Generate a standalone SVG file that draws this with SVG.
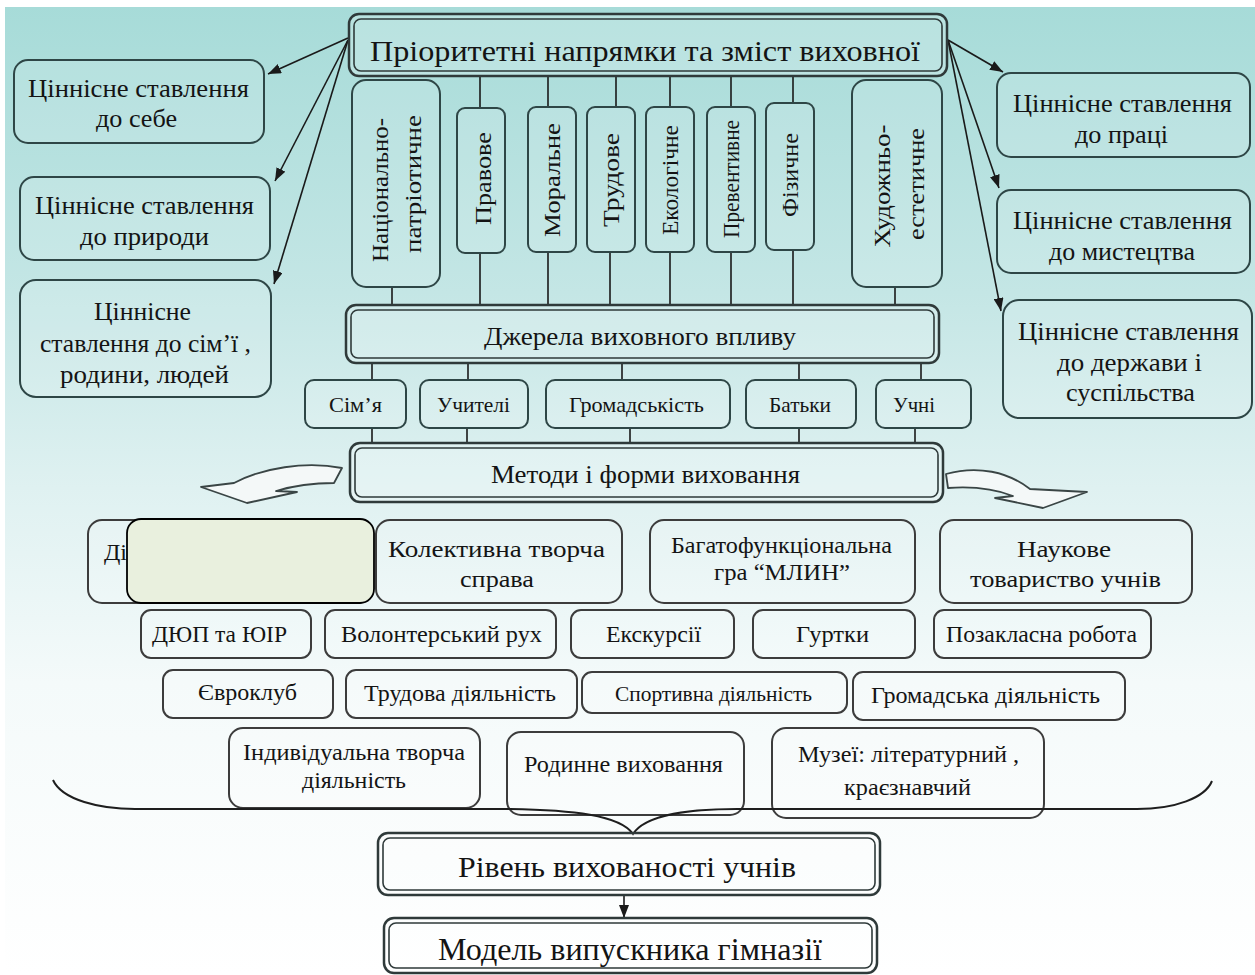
<svg xmlns="http://www.w3.org/2000/svg" width="1255" height="975" viewBox="0 0 1255 975">
<defs>
<linearGradient id="bg" x1="0" y1="0" x2="0" y2="1">
<stop offset="0" stop-color="#a6dbd8"/>
<stop offset="0.3" stop-color="#c4e6e5"/>
<stop offset="0.5" stop-color="#dff1f1"/>
<stop offset="0.7" stop-color="#f4fafa"/>
<stop offset="1" stop-color="#ffffff"/>
</linearGradient>
<marker id="ah" markerUnits="userSpaceOnUse" markerWidth="14" markerHeight="10" refX="13" refY="5" orient="auto">
<path d="M0,0 L13,5 L0,10 z" fill="#1a1a1a"/>
</marker>
<style>
.t{font-family:"Liberation Serif","Times New Roman",serif;fill:#141414}
.s26{font-size:26px}.s24{font-size:24px}.s21{font-size:21px}.s29{font-size:29px}.s31{font-size:31px}
.bx{fill:#ffffff;fill-opacity:0.12;stroke:#2e4646;stroke-width:2}
.lb{fill:#ffffff;fill-opacity:0.15;stroke:#3c3c3c;stroke-width:2}
.do{fill:#ffffff;fill-opacity:0.2;stroke:#2f3a3a;stroke-width:2.5}
.di{fill:none;stroke:#2f3a3a;stroke-width:1.6}
.cn{stroke:#1a1a1a;stroke-width:1.6;fill:none}
.ar{stroke:#1a1a1a;stroke-width:1.6;fill:none;marker-end:url(#ah)}
.ca{fill:#f4f8f8;stroke:#3a4545;stroke-width:1.8;stroke-linejoin:round}
</style>
</defs>
<rect x="0" y="0" width="1255" height="975" fill="url(#bg)"/>
<rect x="0" y="0" width="1255" height="7" fill="#ffffff"/>
<rect x="0" y="0" width="5" height="975" fill="#ffffff"/>

<g id="connectors">
<path class="cn" d="M480,76 V108 M548,76 V107 M616,76 V107 M670,76 V107 M731,76 V107 M793,76 V103"/>
<path class="cn" d="M392,287 V305 M480,253 V305 M548,252 V305 M610,252 V305 M670,252 V305 M731,252 V305 M793,250 V305 M895,287 V305"/>
<path class="cn" d="M372,363 V380 M468,363 V380 M622,363 V380 M799,363 V380 M921,363 V380"/>
<path class="cn" d="M372,428 V443 M467,428 V443 M630,428 V443 M799,428 V443 M915,428 V443"/>
<path class="ar" d="M348,38 L268,74"/>
<path class="ar" d="M348,40 L275,181"/>
<path class="ar" d="M348,40 L274,284"/>
<path class="ar" d="M948,40 L1003,72"/>
<path class="ar" d="M948,40 L999,188"/>
<path class="ar" d="M948,40 L1001,311"/>
<path class="ar" d="M624,895 V918"/>
<path class="ca" d="M342,468 C305,461 262,468 234,483 L201,487 L247,503 L297,492 L276,491 C296,485 314,483 334,483 Z"/>
<path class="ca" d="M946,474 C978,465 1008,472 1030,489 L1087,492 L1043,508 L995,498 L1013,496 C995,489 975,486 948,488 Z"/>
</g>

<g id="title">
<rect class="do" x="349" y="14" width="598" height="62" rx="10"/>
<rect class="di" x="354" y="19" width="588" height="52" rx="7"/>
<text class="t s29" x="645" y="61" text-anchor="middle" textLength="550" lengthAdjust="spacingAndGlyphs">Пріоритетні напрямки та зміст виховної</text>
</g>

<g id="left-1">
<rect class="bx" x="14" y="60" width="250" height="83" rx="14"/>
<text class="t s26" x="138.5" y="97" text-anchor="middle" textLength="221" lengthAdjust="spacingAndGlyphs">Ціннісне ставлення</text>
<text class="t s26" x="136.5" y="127" text-anchor="middle" textLength="81" lengthAdjust="spacingAndGlyphs">до себе</text>
</g>
<g id="left-2">
<rect class="bx" x="20" y="177" width="250" height="83" rx="14"/>
<text class="t s26" x="144.5" y="214" text-anchor="middle" textLength="219" lengthAdjust="spacingAndGlyphs">Ціннісне ставлення</text>
<text class="t s26" x="144.5" y="245" text-anchor="middle" textLength="129" lengthAdjust="spacingAndGlyphs">до природи</text>
</g>
<g id="left-3">
<rect class="bx" x="20" y="280" width="251" height="117" rx="16"/>
<text class="t s26" x="142.5" y="320" text-anchor="middle" textLength="97" lengthAdjust="spacingAndGlyphs">Ціннісне</text>
<text class="t s26" x="145.5" y="352" text-anchor="middle" textLength="211" lengthAdjust="spacingAndGlyphs">ставлення до сім’ї ,</text>
<text class="t s26" x="144.5" y="383" text-anchor="middle" textLength="169" lengthAdjust="spacingAndGlyphs">родини, людей</text>
</g>
<g id="right-1">
<rect class="bx" x="997" y="73" width="253" height="84" rx="14"/>
<text class="t s26" x="1122.5" y="112" text-anchor="middle" textLength="219" lengthAdjust="spacingAndGlyphs">Ціннісне ставлення</text>
<text class="t s26" x="1121.5" y="143" text-anchor="middle" textLength="93" lengthAdjust="spacingAndGlyphs">до праці</text>
</g>
<g id="right-2">
<rect class="bx" x="997" y="190" width="253" height="83" rx="14"/>
<text class="t s26" x="1122.5" y="229" text-anchor="middle" textLength="219" lengthAdjust="spacingAndGlyphs">Ціннісне ставлення</text>
<text class="t s26" x="1122" y="260" text-anchor="middle" textLength="146" lengthAdjust="spacingAndGlyphs">до мистецтва</text>
</g>
<g id="right-3">
<rect class="bx" x="1003" y="300" width="249" height="118" rx="16"/>
<text class="t s26" x="1128.5" y="340" text-anchor="middle" textLength="221" lengthAdjust="spacingAndGlyphs">Ціннісне ставлення</text>
<text class="t s26" x="1129.5" y="371" text-anchor="middle" textLength="145" lengthAdjust="spacingAndGlyphs">до держави і</text>
<text class="t s26" x="1130.5" y="401" text-anchor="middle" textLength="129" lengthAdjust="spacingAndGlyphs">суспільства</text>
</g>

<g id="v-nat">
<rect class="bx" x="352" y="80" width="88" height="207" rx="14"/>
<text class="t s24" transform="translate(380,190) rotate(-90)" x="0" y="8" text-anchor="middle" textLength="144" lengthAdjust="spacingAndGlyphs">Національно-</text>
<text class="t s24" transform="translate(413,184) rotate(-90)" x="0" y="8" text-anchor="middle" textLength="138" lengthAdjust="spacingAndGlyphs">патріотичне</text>
</g>
<g id="v-prav">
<rect class="bx" x="457" y="108" width="48" height="145" rx="8"/>
<text class="t s24" transform="translate(483,178.5) rotate(-90)" x="0" y="8" text-anchor="middle" textLength="93" lengthAdjust="spacingAndGlyphs">Правове</text>
</g>
<g id="v-mor">
<rect class="bx" x="528" y="107" width="48" height="145" rx="8"/>
<text class="t s24" transform="translate(552,180) rotate(-90)" x="0" y="8" text-anchor="middle" textLength="114" lengthAdjust="spacingAndGlyphs">Моральне</text>
</g>
<g id="v-trud">
<rect class="bx" x="587" y="107" width="48" height="145" rx="8"/>
<text class="t s24" transform="translate(611,180) rotate(-90)" x="0" y="8" text-anchor="middle" textLength="94" lengthAdjust="spacingAndGlyphs">Трудове</text>
</g>
<g id="v-eko">
<rect class="bx" x="646" y="107" width="48" height="145" rx="8"/>
<text class="t s24" transform="translate(670,180) rotate(-90)" x="0" y="8" text-anchor="middle" textLength="110" lengthAdjust="spacingAndGlyphs">Екологічне</text>
</g>
<g id="v-prev">
<rect class="bx" x="707" y="107" width="48" height="145" rx="8"/>
<text class="t s24" transform="translate(731,179) rotate(-90)" x="0" y="8" text-anchor="middle" textLength="118" lengthAdjust="spacingAndGlyphs">Превентивне</text>
</g>
<g id="v-fiz">
<rect class="bx" x="766" y="103" width="48" height="147" rx="8"/>
<text class="t s24" transform="translate(790,175) rotate(-90)" x="0" y="8" text-anchor="middle" textLength="84" lengthAdjust="spacingAndGlyphs">Фізичне</text>
</g>
<g id="v-hud">
<rect class="bx" x="852" y="80" width="90" height="207" rx="14"/>
<text class="t s24" transform="translate(882,186) rotate(-90)" x="0" y="8" text-anchor="middle" textLength="123" lengthAdjust="spacingAndGlyphs">Художньо-</text>
<text class="t s24" transform="translate(916,184) rotate(-90)" x="0" y="8" text-anchor="middle" textLength="112" lengthAdjust="spacingAndGlyphs">естетичне</text>
</g>

<g id="sources">
<rect class="do" x="346" y="305" width="593" height="58" rx="10"/>
<rect class="di" x="351" y="310" width="583" height="48" rx="7"/>
<text class="t s26" x="640" y="345" text-anchor="middle" textLength="312" lengthAdjust="spacingAndGlyphs">Джерела виховного впливу</text>
</g>
<g id="s-sim">
<rect class="bx" x="305" y="380" width="101" height="48" rx="9"/>
<text class="t s21" x="355.5" y="412" text-anchor="middle" textLength="53" lengthAdjust="spacingAndGlyphs">Сім’я</text>
</g>
<g id="s-uch">
<rect class="bx" x="420" y="380" width="108" height="48" rx="9"/>
<text class="t s21" x="473.5" y="412" text-anchor="middle" textLength="73" lengthAdjust="spacingAndGlyphs">Учителі</text>
</g>
<g id="s-grom">
<rect class="bx" x="546" y="380" width="184" height="48" rx="9"/>
<text class="t s21" x="636.5" y="412" text-anchor="middle" textLength="135" lengthAdjust="spacingAndGlyphs">Громадськість</text>
</g>
<g id="s-bat">
<rect class="bx" x="746" y="380" width="110" height="48" rx="9"/>
<text class="t s21" x="800" y="412" text-anchor="middle" textLength="62" lengthAdjust="spacingAndGlyphs">Батьки</text>
</g>
<g id="s-uchni">
<rect class="bx" x="876" y="380" width="95" height="48" rx="9"/>
<text class="t s21" x="914" y="412" text-anchor="middle" textLength="42" lengthAdjust="spacingAndGlyphs">Учні</text>
</g>

<g id="methods">
<rect class="do" x="350" y="443" width="593" height="59" rx="10"/>
<rect class="di" x="355" y="448" width="583" height="49" rx="7"/>
<text class="t s26" x="645.5" y="483" text-anchor="middle" textLength="309" lengthAdjust="spacingAndGlyphs">Методи і форми виховання</text>
</g>

<g id="m-d">
<rect class="lb" x="88" y="520" width="284" height="83" rx="14"/>
<text class="t s24" x="104" y="560">Ді</text>
</g>
<g id="m-overlay">
<rect x="127" y="519" width="247" height="84" rx="14" fill="#e9f0de" stroke="#000000" stroke-width="1.8"/>
</g>
<g id="m-ktc">
<rect class="lb" x="376" y="520" width="246" height="83" rx="14"/>
<text class="t s24" x="496.5" y="557" text-anchor="middle" textLength="217" lengthAdjust="spacingAndGlyphs">Колективна творча</text>
<text class="t s24" x="497" y="587" text-anchor="middle" textLength="74" lengthAdjust="spacingAndGlyphs">справа</text>
</g>
<g id="m-mlyn">
<rect class="lb" x="650" y="520" width="265" height="83" rx="14"/>
<text class="t s24" x="781.5" y="553" text-anchor="middle" textLength="221" lengthAdjust="spacingAndGlyphs">Багатофункціональна</text>
<text class="t s24" x="782" y="580" text-anchor="middle" textLength="136" lengthAdjust="spacingAndGlyphs">гра “МЛИН”</text>
</g>
<g id="m-nauk">
<rect class="lb" x="940" y="520" width="252" height="83" rx="14"/>
<text class="t s24" x="1064" y="557" text-anchor="middle" textLength="94" lengthAdjust="spacingAndGlyphs">Наукове</text>
<text class="t s24" x="1065.5" y="587" text-anchor="middle" textLength="191" lengthAdjust="spacingAndGlyphs">товариство учнів</text>
</g>

<g id="m-dyup">
<rect class="lb" x="141" y="610" width="170" height="48" rx="10"/>
<text class="t s24" x="219.5" y="642" text-anchor="middle" textLength="135" lengthAdjust="spacingAndGlyphs">ДЮП та ЮІР</text>
</g>
<g id="m-vol">
<rect class="lb" x="325" y="610" width="231" height="48" rx="10"/>
<text class="t s24" x="441.5" y="642" text-anchor="middle" textLength="201" lengthAdjust="spacingAndGlyphs">Волонтерський рух</text>
</g>
<g id="m-eks">
<rect class="lb" x="571" y="610" width="163" height="48" rx="10"/>
<text class="t s24" x="653.5" y="642" text-anchor="middle" textLength="95" lengthAdjust="spacingAndGlyphs">Екскурсії</text>
</g>
<g id="m-gur">
<rect class="lb" x="753" y="610" width="162" height="48" rx="10"/>
<text class="t s24" x="832.5" y="642" text-anchor="middle" textLength="73" lengthAdjust="spacingAndGlyphs">Гуртки</text>
</g>
<g id="m-poz">
<rect class="lb" x="934" y="610" width="217" height="48" rx="10"/>
<text class="t s24" x="1041.5" y="642" text-anchor="middle" textLength="191" lengthAdjust="spacingAndGlyphs">Позакласна робота</text>
</g>

<g id="m-evro">
<rect class="lb" x="163" y="670" width="170" height="48" rx="10"/>
<text class="t s24" x="247.5" y="700" text-anchor="middle" textLength="99" lengthAdjust="spacingAndGlyphs">Євроклуб</text>
</g>
<g id="m-trud">
<rect class="lb" x="346" y="670" width="231" height="48" rx="10"/>
<text class="t s24" x="460" y="701" text-anchor="middle" textLength="192" lengthAdjust="spacingAndGlyphs">Трудова діяльність</text>
</g>
<g id="m-sport">
<rect class="lb" x="582" y="672" width="265" height="41" rx="10"/>
<text class="t s21" x="713.5" y="701" text-anchor="middle" textLength="197" lengthAdjust="spacingAndGlyphs">Спортивна діяльність</text>
</g>
<g id="m-grom">
<rect class="lb" x="853" y="672" width="272" height="48" rx="10"/>
<text class="t s24" x="985.5" y="703" text-anchor="middle" textLength="229" lengthAdjust="spacingAndGlyphs">Громадська діяльність</text>
</g>

<g id="m-ind">
<rect class="lb" x="229" y="728" width="251" height="80" rx="14"/>
<text class="t s24" x="354" y="760" text-anchor="middle" textLength="222" lengthAdjust="spacingAndGlyphs">Індивідуальна творча</text>
<text class="t s24" x="354" y="788" text-anchor="middle" textLength="104" lengthAdjust="spacingAndGlyphs">діяльність</text>
</g>
<g id="m-rod">
<rect class="lb" x="507" y="732" width="237" height="83" rx="14"/>
<text class="t s24" x="623.5" y="772" text-anchor="middle" textLength="199" lengthAdjust="spacingAndGlyphs">Родинне виховання</text>
</g>
<g id="m-muz">
<rect class="lb" x="772" y="728" width="272" height="90" rx="14"/>
<text class="t s24" x="908.5" y="762" text-anchor="middle" textLength="221" lengthAdjust="spacingAndGlyphs">Музеї: літературний ,</text>
<text class="t s24" x="907.5" y="795" text-anchor="middle" textLength="127" lengthAdjust="spacingAndGlyphs">краєзнавчий</text>
</g>

<g id="brace">
<path d="M53,780 C62,800 100,809 135,809 L510,809 C572,810 620,815 633,834 C645,815 690,809 737,809 L1137,809 C1175,809 1205,798 1212,781" fill="none" stroke="#1e1e1e" stroke-width="2"/>
</g>

<g id="level">
<rect class="do" x="378" y="833" width="502" height="62" rx="10"/>
<rect class="di" x="383" y="838" width="492" height="52" rx="7"/>
<text class="t s29" x="627" y="877" text-anchor="middle" textLength="338" lengthAdjust="spacingAndGlyphs">Рівень вихованості учнів</text>
</g>
<g id="model">
<rect class="do" x="384" y="918" width="493" height="55" rx="10"/>
<rect class="di" x="389" y="923" width="483" height="45" rx="7"/>
<text class="t s31" x="630" y="960" text-anchor="middle" textLength="384" lengthAdjust="spacingAndGlyphs">Модель випускника гімназії</text>
</g>
</svg>
